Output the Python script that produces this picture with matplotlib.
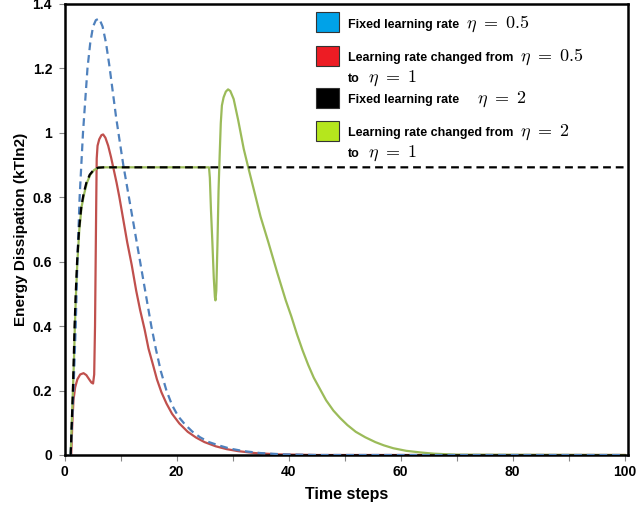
import matplotlib
matplotlib.use("Agg")
import matplotlib.pyplot as plt
from matplotlib.patches import Rectangle
from matplotlib.ticker import MultipleLocator, FuncFormatter

# fixed learning rate eta = 0.5 (blue dashed)
T_FIX05 = [1.1, 1.35, 1.6, 1.8, 2.0, 2.15, 2.3, 2.5, 2.7, 3.0, 3.3, 3.7, 4.1, 4.6,
           5.1, 5.6, 6.2, 6.8, 7.4, 8.0, 8.6, 9.2, 9.8, 10.5, 11.2, 11.9, 12.6,
           13.3, 14.0, 14.7, 15.5, 16.3, 17.2, 18.2, 19.2, 20.3, 21.5, 22.8, 24.2,
           25.8, 27.5, 29.5, 32.0, 35.0, 39.0, 45.0, 100.0]
E_FIX05 = [0.0, 0.10, 0.20, 0.30, 0.40, 0.50, 0.60, 0.70, 0.80, 0.90, 1.00, 1.10,
           1.20, 1.28, 1.33, 1.35, 1.355, 1.33, 1.28, 1.21, 1.13, 1.05, 0.98, 0.90,
           0.83, 0.76, 0.69, 0.62, 0.55, 0.48, 0.40, 0.33, 0.26, 0.20, 0.155, 0.12,
           0.095, 0.073, 0.055, 0.04, 0.03, 0.02, 0.012, 0.006, 0.002, 0.0, 0.0]

# eta changed 0.5 -> 1 (red)
T_CH05 = [1.2, 1.4, 1.6, 1.9, 2.3, 2.8, 3.4, 3.9, 4.4, 4.8, 5.1, 5.3, 5.45, 5.55,
          5.65, 5.75, 5.9, 6.2, 6.6, 6.9, 7.3, 7.8, 8.3, 8.8, 9.3, 9.8, 10.5, 11.2,
          12.0, 12.8, 13.5, 14.3, 15.0, 15.8, 16.5, 17.3, 18.2, 19.2, 20.5, 22.0,
          23.5, 25.0, 27.0, 29.0, 31.0, 34.0, 38.0, 45.0, 100.0]
E_CH05 = [0.0, 0.10, 0.17, 0.21, 0.235, 0.25, 0.254, 0.248, 0.235, 0.225, 0.222,
          0.25, 0.40, 0.58, 0.76, 0.92, 0.96, 0.98, 0.993, 0.995, 0.985, 0.96,
          0.925, 0.885, 0.845, 0.80, 0.73, 0.66, 0.59, 0.51, 0.45, 0.39, 0.33, 0.28,
          0.235, 0.195, 0.16, 0.128, 0.098, 0.072, 0.054, 0.04, 0.027, 0.018, 0.012,
          0.006, 0.002, 0.0, 0.0]

# fixed learning rate eta = 2 (black dashed)
T_FIX2 = [1.1, 1.3, 1.5, 1.65, 1.8, 2.0, 2.25, 2.6, 3.0, 3.4, 3.9, 4.5, 5.2, 6.0,
          7.0, 100.0]
E_FIX2 = [0.0, 0.10, 0.20, 0.30, 0.40, 0.50, 0.60, 0.70, 0.77, 0.81, 0.845, 0.87,
          0.885, 0.892, 0.893, 0.893]

# eta changed 2 -> 1 (green)
T_CH2 = [1.1, 1.3, 1.5, 1.7, 1.85, 2.05, 2.3, 2.65, 3.05, 3.5, 4.0, 4.6, 5.3, 6.1,
         7.0, 25.8, 25.95, 26.15, 26.4, 26.65, 26.85, 26.95, 27.1, 27.3, 27.5, 27.7,
         27.9, 28.1, 28.4, 28.8, 29.2, 29.6, 30.2, 31.0, 32.0, 32.8, 34.0, 35.0,
         36.4, 38.0, 39.5, 40.5, 41.5, 42.5, 43.5, 44.5, 45.6, 46.7, 48.0, 49.2,
         50.5, 52.0, 53.7, 55.5, 57.0, 58.7, 61.0, 63.5, 66.0, 70.0, 100.0]
E_CH2 = [0.0, 0.10, 0.20, 0.30, 0.40, 0.50, 0.60, 0.70, 0.77, 0.81, 0.845, 0.87,
         0.885, 0.892, 0.893, 0.893, 0.86, 0.76, 0.66, 0.55, 0.49, 0.48, 0.51, 0.65,
         0.82, 0.93, 1.03, 1.085, 1.11, 1.128, 1.135, 1.13, 1.105, 1.04, 0.95, 0.893,
         0.81, 0.74, 0.66, 0.565, 0.48, 0.43, 0.375, 0.325, 0.28, 0.24, 0.205, 0.17,
         0.138, 0.115, 0.093, 0.072, 0.055, 0.04, 0.03, 0.021, 0.013, 0.008, 0.004,
         0.001, 0.0]

LEGEND_COLORS = ["#00A2E8", "#ED1C24", "#000000", "#B5E61D"]
LEGEND_TEXT = ["Fixed learning rate", "Learning rate changed from",
               "Fixed learning rate", "Learning rate changed from"]
LEGEND_MATH = [r"$\eta\ =\ 0.5$", r"$\eta\ =\ 0.5$", r"$\eta\ =\ 2$", r"$\eta\ =\ 2$"]
LEGEND_SECOND = [None, r"$\eta\ =\ 1$", None, r"$\eta\ =\ 1$"]

plt.rcParams["font.family"] = ["Liberation Sans", "DejaVu Sans"]
plt.rcParams["mathtext.fontset"] = "cm"

W, H = 636, 508
fig = plt.figure(figsize=(W / 100, H / 100), dpi=100)
ax = fig.add_axes([64.5 / W, 1 - 455 / H, (628 - 64.5) / W, (455 - 4) / H])

ax.plot(T_CH05, E_CH05, color="#C0504D", lw=1.6, zorder=2)
ax.plot(T_CH2, E_CH2, color="#9BBB59", lw=1.6, zorder=2)
ax.plot(T_FIX05, E_FIX05, color="#4F81BD", lw=1.6, dashes=(3.5, 2.2), zorder=3)
ax.plot(T_FIX2, E_FIX2, color="black", lw=1.6, dashes=(3.5, 2.2), zorder=4)

ax.set_xlim(0, 100.6)
ax.set_ylim(0, 1.4)
ax.xaxis.set_major_locator(MultipleLocator(20))
ax.xaxis.set_minor_locator(MultipleLocator(10))
ax.yaxis.set_major_locator(MultipleLocator(0.2))
ax.yaxis.set_major_formatter(FuncFormatter(lambda v, p: f"{v:g}"))
ax.tick_params(axis="both", which="both", direction="out", length=4,
               width=0.8, color="#888888")
ax.tick_params(axis="x", pad=3)
ax.tick_params(axis="y", pad=5)
for lab in ax.get_xticklabels() + ax.get_yticklabels():
    lab.set_fontsize(10)
    lab.set_fontweight("bold")
for sp in ax.spines.values():
    sp.set_linewidth(1.8)
    sp.set_color("black")

ax.set_xlabel("Time steps", fontsize=11.5, fontweight="bold", labelpad=6)
ax.set_ylabel("Energy Dissipation (kTln2)", fontsize=11, fontweight="bold",
              labelpad=3)

# hand-built legend (no frame), pixel positions from the top-left corner
def fx(px):
    return px / W

def fy(py):
    return 1 - py / H

patch_tops = [12, 46, 88, 121]
baselines = [(28, None), (61, 82), (103, None), (136, 157)]
for i in range(4):
    fig.patches.append(Rectangle((fx(316), fy(patch_tops[i] + 20)), 23 / W, 20 / H,
                                 transform=fig.transFigure, facecolor=LEGEND_COLORS[i],
                                 edgecolor="#333333", lw=0.8, zorder=5))
    b1, b2 = baselines[i]
    t = fig.text(fx(348), fy(b1), LEGEND_TEXT[i], fontsize=9, fontweight="bold",
                 va="baseline", ha="left")
    ax.annotate(LEGEND_MATH[i], xy=(1, fy(b1)), xycoords=(t, "figure fraction"),
                xytext=(7 if i != 2 else 18, 0), textcoords="offset pixels",
                fontsize=13, va="baseline", ha="left", annotation_clip=False)
    if b2 is not None:
        t2 = fig.text(fx(348), fy(b2), "to", fontsize=9, fontweight="bold",
                      va="baseline", ha="left")
        ax.annotate(LEGEND_SECOND[i], xy=(1, fy(b2)), xycoords=(t2, "figure fraction"),
                    xytext=(8, 0), textcoords="offset pixels",
                    fontsize=13, va="baseline", ha="left", annotation_clip=False)

fig.savefig("out.png", dpi=100)
